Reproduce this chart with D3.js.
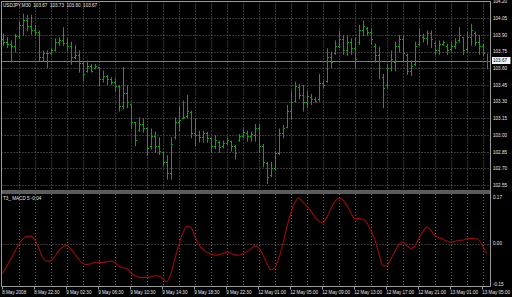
<!DOCTYPE html>
<html>
<head>
<meta charset="utf-8">
<script src="https://cdn.jsdelivr.net/npm/d3@7"></script>
<style>
  html, body { margin: 0; padding: 0; background: #000; }
  svg { display: block; }
  text { font-family: "Liberation Sans", Arial, sans-serif; fill: #e6e6e6; }
</style>
</head>
<body>
<svg id="chart"></svg>
<script>
// chart size
var svgWidth = 512, svgHeight = 297;

// USDJPY M30 bars, 8 May 2008 18:30 .. 13 May 2008 05:00
var barOpen = [
  103.86,103.84,103.82,103.80,103.89,103.99,104.03,103.98,103.94,103.93,
  103.70,103.74,103.74,103.76,103.84,103.85,103.83,103.80,103.70,103.72,
  103.65,103.58,103.62,103.60,103.61,103.50,103.53,103.50,103.48,103.44,
  103.26,103.38,103.28,103.12,103.05,103.10,103.06,102.90,102.99,102.90,
  102.85,102.76,102.66,102.98,103.12,103.15,103.17,103.21,103.02,103.00,
  102.98,103.02,102.97,102.90,102.94,102.90,102.93,102.95,102.90,102.96,
  102.99,103.02,102.99,103.00,103.06,102.90,102.75,102.64,102.70,102.84,
  103.02,103.07,103.22,103.31,103.43,103.36,103.30,103.34,103.32,103.32,
  103.47,103.49,103.70,103.74,103.80,103.86,103.76,103.84,103.78,103.84,
  103.94,103.96,103.93,103.80,103.72,103.52,103.45,103.60,103.66,103.80,
  103.86,103.72,103.58,103.64,103.82,103.88,103.87,103.92,103.83,103.76,
  103.82,103.80,103.77,103.80,103.85,103.88,103.77,103.88,103.92,103.84,
  103.80,103.67
];
var barHigh = [
  103.91,103.88,103.85,103.91,104.02,104.09,104.08,104.08,103.99,103.94,
  103.76,103.76,103.78,103.87,103.88,103.97,103.87,103.84,103.81,103.76,
  103.66,103.67,103.64,103.64,103.61,103.58,103.54,103.52,103.51,103.45,
  103.61,103.45,103.28,103.12,103.16,103.15,103.07,103.06,103.03,102.98,
  102.85,102.82,102.98,103.16,103.26,103.31,103.36,103.22,103.15,103.04,
  103.04,103.03,102.98,103.00,102.95,102.95,102.98,102.95,102.91,103.01,
  103.06,103.04,103.03,103.10,103.10,102.92,102.76,102.76,102.86,103.06,
  103.09,103.27,103.40,103.48,103.46,103.45,103.40,103.37,103.34,103.55,
  103.49,103.78,103.75,103.85,103.94,103.90,103.90,103.87,103.88,103.99,
  104.03,103.97,103.96,103.82,103.79,103.55,103.64,103.76,103.84,103.90,
  103.90,103.73,103.67,103.84,103.96,103.91,103.94,103.94,103.84,103.85,
  103.85,103.82,103.84,103.87,103.97,103.88,103.93,104.00,103.93,103.90,
  103.82,103.73
];
var barLow = [
  103.81,103.79,103.66,103.75,103.87,103.90,103.94,103.91,103.90,103.67,
  103.67,103.61,103.73,103.76,103.81,103.81,103.76,103.64,103.69,103.57,
  103.49,103.57,103.57,103.60,103.45,103.48,103.46,103.46,103.40,103.22,
  103.24,103.25,103.06,102.91,103.04,103.03,102.82,102.88,102.85,102.83,
  102.73,102.61,102.61,102.97,103.04,103.15,103.16,102.98,102.91,102.94,
  102.94,102.94,102.85,102.88,102.85,102.89,102.92,102.86,102.79,102.95,
  102.98,102.95,102.95,102.95,102.85,102.72,102.57,102.63,102.69,102.83,
  102.98,103.07,103.15,103.30,103.33,103.22,103.25,103.28,103.30,103.31,
  103.43,103.48,103.61,103.73,103.79,103.73,103.72,103.73,103.60,103.82,
  103.90,103.90,103.82,103.66,103.51,103.25,103.43,103.58,103.58,103.75,
  103.67,103.55,103.54,103.63,103.81,103.84,103.82,103.79,103.73,103.73,
  103.81,103.73,103.76,103.78,103.84,103.73,103.75,103.81,103.81,103.73,
  103.72,103.60
];
var barClose = [
  103.84,103.82,103.80,103.89,103.99,104.03,103.98,103.94,103.93,103.70,
  103.74,103.74,103.76,103.84,103.85,103.83,103.80,103.70,103.72,103.65,
  103.55,103.62,103.58,103.62,103.50,103.53,103.50,103.48,103.44,103.26,
  103.38,103.30,103.12,102.96,103.10,103.06,102.88,102.99,102.90,102.86,
  102.76,102.66,102.92,103.12,103.14,103.16,103.22,103.02,103.00,102.98,
  103.02,102.97,102.90,102.96,102.89,102.93,102.96,102.90,102.84,102.99,
  103.03,102.99,103.01,103.06,102.90,102.76,102.62,102.70,102.84,103.02,
  103.06,103.22,103.30,103.44,103.36,103.30,103.35,103.32,103.31,103.47,
  103.45,103.70,103.66,103.80,103.86,103.76,103.84,103.78,103.68,103.94,
  103.98,103.93,103.86,103.72,103.60,103.42,103.60,103.68,103.80,103.86,
  103.74,103.58,103.62,103.80,103.90,103.87,103.92,103.86,103.76,103.82,
  103.84,103.76,103.80,103.84,103.90,103.76,103.88,103.94,103.84,103.80,
  103.74,103.67
];

// T3_MACD(5) value per bar
var macdValues = [
  -0.110,-0.083,-0.057,-0.030,-0.003,0.017,0.026,0.028,0.015,-0.015,
  -0.050,-0.064,-0.063,-0.048,-0.026,-0.012,-0.006,-0.018,-0.037,-0.058,
  -0.072,-0.077,-0.074,-0.069,-0.068,-0.069,-0.067,-0.064,-0.068,-0.082,
  -0.088,-0.091,-0.106,-0.118,-0.123,-0.124,-0.124,-0.122,-0.118,-0.119,
  -0.128,-0.140,-0.113,-0.057,-0.006,0.037,0.063,0.061,0.029,-0.003,
  -0.020,-0.031,-0.037,-0.042,-0.041,-0.036,-0.030,-0.034,-0.042,-0.042,
  -0.036,-0.030,-0.020,-0.008,-0.015,-0.040,-0.070,-0.096,-0.089,-0.055,
  -0.003,0.058,0.111,0.150,0.168,0.154,0.139,0.122,0.099,0.083,
  0.077,0.097,0.127,0.154,0.167,0.162,0.142,0.115,0.093,0.093,
  0.090,0.078,0.050,0.017,-0.034,-0.079,-0.082,-0.057,-0.030,-0.003,
  0.007,-0.006,-0.018,-0.009,0.019,0.043,0.061,0.050,0.031,0.023,
  0.017,0.010,0.006,0.009,0.012,0.013,0.018,0.019,0.019,0.014,
  -0.008,-0.035
];

// axis labels
var priceTicks = [104.20,104.05,103.90,103.75,103.60,103.45,103.30,103.15,103.00,102.85,102.70,102.55];
var macdTicks = [0.17,0.00,-0.15];
var timeTickBars = [0,8,16,24,32,40,48,56,64,72,80,88,96,104,112,120];
var timeTickLabels = ["8 May 2008","8 May 22:30","9 May 02:30","9 May 06:30","9 May 10:30",
  "9 May 14:30","9 May 18:30","9 May 22:30","12 May 01:00","12 May 05:00","12 May 09:00",
  "12 May 13:00","12 May 17:00","12 May 21:00","13 May 01:00","13 May 05:00"];
var headerText = "USDJPY,M30  103.67  103.73  103.60  103.67";
var macdName = "T3_ MACD 5 -0.04";
var currentPrice = 103.67;

// layout
var left = 1.5, axisX = 490.5;
var mainTop = 1.5, mainBottom = 190.5;
var subTop = 194, subBottom = 286.5;
var fontSize = 4.6;
var gridColor = "#6b6b6b", frameColor = "#9a9a9a";
var barColor = "#0ea40e", macdColor = "#9c0a0a";

var xScale = d3.scaleLinear()
  .domain([0, barClose.length - 1])
  .range([2.7, 486.7]);

var yScale = d3.scaleLinear()
  .domain([102.55, 104.20])
  .range([185.2, 1.5]);

var yMacd = d3.scaleLinear()
  .domain([-0.15, 0.17])
  .range([284.5, 197.5]);

function px(v) { return Math.round(v) + 0.5; }

var svg = d3.select("#chart")
  .attr("width", svgWidth)
  .attr("height", svgHeight);

svg.append("rect")
  .attr("width", svgWidth).attr("height", svgHeight)
  .attr("fill", "#000");

// grid
var gridBars = d3.range(4, barClose.length, 4);
var grid = svg.append("g")
  .attr("stroke", gridColor)
  .attr("stroke-width", 1)
  .attr("stroke-dasharray", "1,2");

grid.selectAll(".vmain")
  .data(gridBars)
  .enter().append("line")
  .attr("x1", function (d) { return px(xScale(d)); })
  .attr("x2", function (d) { return px(xScale(d)); })
  .attr("y1", mainTop).attr("y2", mainBottom);

grid.selectAll(".vsub")
  .data(gridBars)
  .enter().append("line")
  .attr("x1", function (d) { return px(xScale(d)); })
  .attr("x2", function (d) { return px(xScale(d)); })
  .attr("y1", subTop).attr("y2", subBottom);

grid.selectAll(".hmain")
  .data(priceTicks.slice(1))
  .enter().append("line")
  .attr("x1", left).attr("x2", axisX)
  .attr("y1", function (d) { return px(yScale(d)); })
  .attr("y2", function (d) { return px(yScale(d)); });

grid.append("line")
  .attr("x1", left).attr("x2", axisX)
  .attr("y1", px(yMacd(0))).attr("y2", px(yMacd(0)));

// current price line
svg.append("line")
  .attr("x1", left).attr("x2", axisX)
  .attr("y1", px(yScale(currentPrice))).attr("y2", px(yScale(currentPrice)))
  .attr("stroke", "#7c7c7c").attr("stroke-width", 1);

// OHLC bars
var bars = svg.append("g")
  .attr("stroke", barColor)
  .attr("stroke-width", 1)
  .selectAll("g")
  .data(barClose)
  .enter().append("g");

bars.append("line")
  .attr("x1", function (d, i) { return px(xScale(i)); })
  .attr("x2", function (d, i) { return px(xScale(i)); })
  .attr("y1", function (d, i) { return yScale(barHigh[i]); })
  .attr("y2", function (d, i) { return yScale(barLow[i]) + 1; });

bars.append("line")
  .attr("x1", function (d, i) { return px(xScale(i)) - 1.5; })
  .attr("x2", function (d, i) { return px(xScale(i)) - 0.5; })
  .attr("y1", function (d, i) { return px(yScale(barOpen[i])); })
  .attr("y2", function (d, i) { return px(yScale(barOpen[i])); });

bars.append("line")
  .attr("x1", function (d, i) { return px(xScale(i)) + 0.5; })
  .attr("x2", function (d, i) { return px(xScale(i)) + 1.5; })
  .attr("y1", function (d, i) { return px(yScale(d)); })
  .attr("y2", function (d, i) { return px(yScale(d)); });

// T3 MACD line
var macdLine = d3.line()
  .x(function (d, i) { return xScale(i); })
  .y(function (d) { return yMacd(d); })
  .curve(d3.curveMonotoneX);

svg.append("path")
  .datum(macdValues)
  .attr("d", macdLine)
  .attr("fill", "none")
  .attr("stroke", macdColor)
  .attr("stroke-width", 1.1);

// frame
var frame = svg.append("g")
  .attr("stroke", frameColor)
  .attr("stroke-width", 1)
  .attr("fill", "none");

frame.append("line").attr("x1", left).attr("x2", left).attr("y1", mainTop).attr("y2", subBottom);
frame.append("line").attr("x1", axisX).attr("x2", axisX).attr("y1", mainTop).attr("y2", subBottom);
frame.append("line").attr("x1", left).attr("x2", axisX).attr("y1", mainTop).attr("y2", mainTop);
frame.append("line").attr("x1", left).attr("x2", axisX).attr("y1", subBottom).attr("y2", subBottom);
frame.append("line").attr("x1", left).attr("x2", axisX).attr("y1", mainBottom + 0.5).attr("y2", mainBottom + 0.5)
  .attr("stroke", "#b8b8b8");
frame.append("line").attr("x1", left).attr("x2", axisX).attr("y1", mainBottom + 2.5).attr("y2", mainBottom + 2.5)
  .attr("stroke", "#b8b8b8");

// price axis labels
svg.append("g")
  .selectAll("text")
  .data(priceTicks)
  .enter().append("text")
  .attr("x", axisX + 2.5)
  .attr("y", function (d) { return yScale(d) + 1.7; })
  .attr("font-size", fontSize)
  .text(function (d) { return d.toFixed(2); });

// current price tag
var tagY = yScale(currentPrice);
svg.append("rect")
  .attr("x", axisX + 1.5).attr("y", tagY - 3.5)
  .attr("width", 18.5).attr("height", 7)
  .attr("fill", "#f4f4f4");
svg.append("text")
  .attr("x", axisX + 2.5).attr("y", tagY + 1.7)
  .attr("font-size", fontSize)
  .style("fill", "#000")
  .text(currentPrice.toFixed(2));

// macd axis labels
svg.append("g")
  .selectAll("text")
  .data(macdTicks)
  .enter().append("text")
  .attr("x", axisX + 2.5)
  .attr("y", function (d) { return yMacd(d) + 1.7; })
  .attr("font-size", fontSize)
  .text(function (d) { return d.toFixed(2); });

// time axis
var timeAxis = svg.append("g");
timeAxis.selectAll("line")
  .data(timeTickBars)
  .enter().append("line")
  .attr("x1", function (d) { return px(xScale(d)) - 1; })
  .attr("x2", function (d) { return px(xScale(d)) - 1; })
  .attr("y1", subBottom).attr("y2", subBottom + 3)
  .attr("stroke", frameColor);
timeAxis.selectAll("text")
  .data(timeTickBars)
  .enter().append("text")
  .attr("x", function (d) { return xScale(d) - 0.5; })
  .attr("y", 293.8)
  .attr("font-size", fontSize)
  .text(function (d, i) { return timeTickLabels[i]; });

// pane titles
svg.append("text")
  .attr("x", 3).attr("y", 7)
  .attr("font-size", fontSize)
  .attr("xml:space", "preserve")
  .style("white-space", "pre")
  .text(headerText);

svg.append("text")
  .attr("x", 3).attr("y", 199.5)
  .attr("font-size", fontSize)
  .text(macdName);
</script>
</body>
</html>
